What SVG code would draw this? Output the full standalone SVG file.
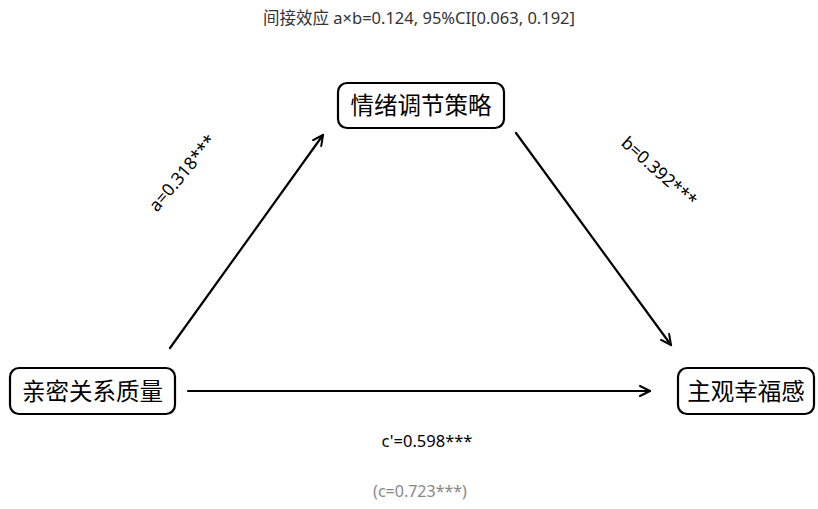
<svg xmlns="http://www.w3.org/2000/svg" width="818" height="509" viewBox="0 0 818 509">
<defs>
<marker id="ah" viewBox="0 0 12 12" refX="11" refY="6" markerWidth="12" markerHeight="12" markerUnits="userSpaceOnUse" orient="auto">
<path d="M1,1 L11,6 L1,11" fill="none" stroke="#000" stroke-width="2" stroke-linecap="round" stroke-linejoin="round"/>
</marker>
<style>
.box{fill:#fff;stroke:#000;stroke-width:2.2}
.nt{font-family:"Noto Sans CJK SC","Noto Sans",sans-serif;font-size:23.5px;fill:#000;text-anchor:middle}
.lbl{font-family:"Noto Sans","Noto Sans CJK SC",sans-serif;font-size:16.5px;fill:#000;text-anchor:middle}
.rl{font-family:"Noto Sans","Noto Sans CJK SC",sans-serif;font-size:17.5px;fill:#000;text-anchor:middle}
.sub{font-family:"Noto Sans","Noto Sans CJK SC",sans-serif;font-size:16px;fill:#888;text-anchor:middle}
.edge{stroke:#000;stroke-width:2.2;fill:none;marker-end:url(#ah);stroke-linecap:round}
</style>
</defs>
<rect width="818" height="509" fill="#fff"/>
<text x="419" y="24" font-family="'Noto Sans','Noto Sans CJK SC',sans-serif" font-size="16.5" fill="#333" text-anchor="middle">间接效应 a×b=0.124, 95%CI[0.063, 0.192]</text>
<g id="connectors">
<line class="edge" x1="170" y1="348" x2="323" y2="135"/>
<line class="edge" x1="516" y1="133" x2="671" y2="345"/>
<line class="edge" x1="188" y1="391" x2="650" y2="391"/>
</g>
<g id="node-mediator">
<rect class="box" x="338" y="83" width="166" height="45" rx="9"/>
<text class="nt" x="421" y="114">情绪调节策略</text>
</g>
<g id="node-x">
<rect class="box" x="10" y="368" width="165" height="46" rx="9"/>
<text class="nt" x="92.5" y="400">亲密关系质量</text>
</g>
<g id="node-y">
<rect class="box" x="678" y="368" width="136" height="46" rx="9"/>
<text class="nt" x="746" y="400">主观幸福感</text>
</g>
<g id="labels">
<text class="rl" transform="translate(187,177) rotate(-50)">a=0.318***</text>
<text class="rl" transform="translate(655,176) rotate(42)">b=0.392***</text>
<text class="lbl" x="427" y="447">c'=0.598***</text>
<text class="sub" x="420" y="497">(c=0.723***)</text>
</g>
</svg>
